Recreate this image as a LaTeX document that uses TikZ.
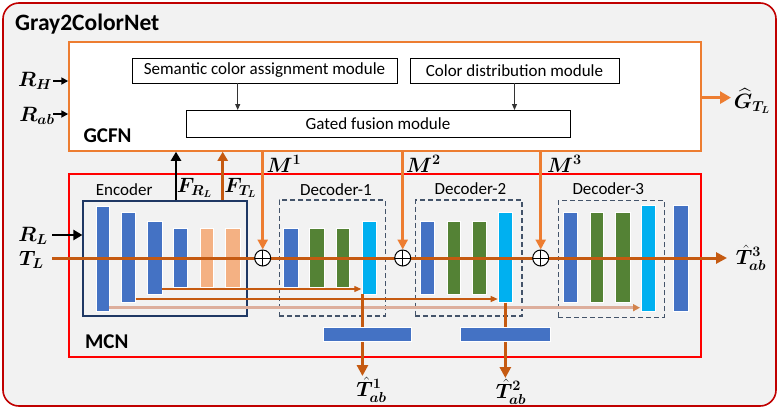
\documentclass[tikz,border=0pt]{standalone}
\usepackage{fontspec}
\setmainfont{Carlito}
\usepackage{amsmath,bm}
\usetikzlibrary{arrows.meta,calc}
\definecolor{bgray}{HTML}{F2F2F2}
\definecolor{cdred}{HTML}{C00000}
\definecolor{cred}{HTML}{FF0000}
\definecolor{corange}{HTML}{ED7D31}
\definecolor{cmain}{HTML}{C55A11}
\definecolor{cblue}{HTML}{4472C4}
\definecolor{cgreen}{HTML}{548235}
\definecolor{ccyan}{HTML}{00B0F0}
\definecolor{cpeach}{HTML}{F4B183}
\definecolor{cnavy}{HTML}{1F3864}
\definecolor{cdash}{HTML}{44546A}
\definecolor{cskip}{HTML}{DDAE9C}
\tikzset{
  barsty/.style={draw=white, line width=0.5pt, inner sep=0pt, outer sep=0pt},
  bblue/.style={fill=cblue}, bgreen/.style={fill=cgreen},
  bcyan/.style={fill=ccyan}, bpeach/.style={fill=cpeach},
  modbox/.style={draw=black, line width=1pt, fill=white, inner sep=0pt, outer sep=0pt, font=\fontsize{17}{20}\selectfont},
  plainlbl/.style={inner sep=0pt, font=\fontsize{17}{20}\selectfont},
  boldlbl/.style={inner sep=0pt, font=\fontsize{21}{24}\selectfont\bfseries},
  mlbl/.style={inner sep=0pt, font=\fontsize{20}{22}\selectfont},
  tlbl/.style={inner sep=0pt, font=\fontsize{21}{24}\selectfont},
  modarrow/.style={draw=black!80, line width=0.9pt, -{Triangle[length=6pt,width=5pt]}},
  inarrow/.style={draw=black, line width=1.8pt, -{Triangle[length=7pt,width=7pt]}},
  bigblack/.style={draw=black, line width=2.5pt, -{Triangle[length=9pt,width=10pt]}},
  mainarrow/.style={draw=cmain, line width=3pt, -{Triangle[length=11pt,width=11pt]}},
  marrow/.style={draw=corange, line width=2.5pt, -{Triangle[length=10pt,width=10pt]}},
  garrow/.style={draw=corange, line width=3.5pt, -{Triangle[length=11pt,width=12pt]}},
  ftarrow/.style={draw=cmain, line width=2.5pt, -{Triangle[length=9pt,width=10pt]}},
  skiparrow/.style={draw=cmain, line width=1.2pt, -{Triangle[length=7pt,width=6pt]}},
  skiplight/.style={draw=cskip, line width=2.5pt, -{Triangle[length=7pt,width=7pt,color=cmain!75]}},
  sumnode/.style={circle, draw=black, fill=white, line width=1pt, minimum size=16pt, inner sep=0pt,
    path picture={\draw[black, line width=0.9pt] (path picture bounding box.north) -- (path picture bounding box.south)
      (path picture bounding box.west) -- (path picture bounding box.east);}},
  encbox/.style={draw=cnavy, line width=1.2pt, inner sep=0pt},
  decbox/.style={draw=cdash, line width=1.2pt, dash pattern=on 5pt off 3pt, inner sep=0pt},
}
\newcommand{\pbar}[6]{\node[barsty,#2,minimum width={#5-#3},minimum height={#6-#4}] (#1) at ({(#3+#5)/2},{(#4+#6)/2}) {};}
\begin{document}
\begin{tikzpicture}[x=1pt,y=-1pt]
\useasboundingbox (0,0) rectangle (781,410);
% outer frame
\node[draw=cdred, line width=1.6pt, fill=bgray, rounded corners=16pt, minimum width=773, minimum height=403, inner sep=0pt] (outer) at (389.5,204.5) {};
\node[anchor=base west, inner sep=0pt, font=\fontsize{23.5}{26}\selectfont\bfseries] (title) at (15,30) {Gray2ColorNet};
% GCFN
\node[draw=corange, line width=1.5pt, fill=white, minimum width=632, minimum height=109, inner sep=0pt] (gcfn) at (385,96.5) {};
\node[modbox, minimum width=265, minimum height=25] (sem) at (264.5,70.5) {Semantic color assignment module};
\node[modbox, minimum width=209, minimum height=25] (cd) at (514.5,70.5) {Color distribution module};
\node[modbox, minimum width=384, minimum height=27] (gfm) at (378,123.5) {Gated fusion module};
\draw[modarrow] ([xshift=-26.8pt]sem.south) -- ([xshift=-26.8pt]sem.south |- gfm.north);
\draw[modarrow] (cd.south) -- (cd.south |- gfm.north);
\node[boldlbl] (gcfnlbl) at (107.5,136) {GCFN};
% inputs to GCFN
\node[mlbl] (rh) at (35,81) {$\bm{R_H}$};
\node[mlbl] (rab) at (37,116) {$\bm{R_{ab}}$};
\coordinate (rha) at (53,81);
\coordinate (raba) at (53,114);
\draw[inarrow] (rha) -- (rha -| gcfn.west);
\draw[inarrow] (raba) -- (raba -| gcfn.west);
% GCFN output
\node[mlbl] (ghat) at (752,101) {$\bm{\widehat{G}_{T_L}}$};
\coordinate (ga) at (740,97.6);
\draw[garrow] (ga -| gcfn.east) -- ([xshift=-9pt]ga);
% MCN
\node[draw=cred, line width=1.3pt, minimum width=632, minimum height=183, inner sep=0pt] (mcn) at (385,265.5) {};
\node[boldlbl] (mcnlbl) at (106.7,342) {MCN};
\node[encbox, minimum width=164, minimum height=115] (enc) at (165,258.5) {};
\node[decbox, minimum width=106, minimum height=116] (d1) at (332.3,258) {};
\node[decbox, minimum width=106.7, minimum height=116] (d2) at (468.7,258) {};
\node[decbox, minimum width=106, minimum height=116.6] (d3) at (611.3,259) {};
\node[plainlbl] (enclbl) at (124.2,190) {Encoder};
\node[plainlbl] (d1lbl) at (336,190) {Decoder-1};
\node[plainlbl] (d2lbl) at (470.5,188.5) {Decoder-2};
\node[plainlbl] (d3lbl) at (608.3,188.5) {Decoder-3};
% skip connections
\pbar{e1}{bblue}{96}{206}{109}{311}
\pbar{e2}{bblue}{121}{212}{135.7}{302.7}
\pbar{e3}{bblue}{147}{221}{162}{294}
\pbar{d1d}{bcyan}{362.3}{221}{376}{294.3}
\pbar{d2d}{bcyan}{498.7}{212.7}{512}{302.7}
\pbar{d3d}{bcyan}{641}{205.7}{655}{311}
\draw[skiparrow] (e3.east |- 0,289) -- ([xshift=-1pt]d1d.west |- 0,289);
\draw[skiparrow] (e2.east |- 0,299) -- ([xshift=-1pt]d2d.west |- 0,299);
\draw[skiplight] (e1.east |- 0,307.7) -- ([xshift=-1pt]d3d.west |- 0,307.7);
% bars
\pbar{e4}{bblue}{173}{228}{187}{287}
\pbar{e5}{bpeach}{200}{228}{213}{287}
\pbar{e6}{bpeach}{225}{228}{240}{287}
\pbar{d1a}{bblue}{283.3}{228}{298.3}{287}
\pbar{d1b}{bgreen}{309.3}{228}{324.3}{287}
\pbar{d1c}{bgreen}{336}{228}{349.3}{287}
\pbar{d2a}{bblue}{420.7}{221}{434.3}{294.3}
\pbar{d2b}{bgreen}{447}{221}{460.7}{294.3}
\pbar{d2c}{bgreen}{472}{221}{486.7}{294.3}
\pbar{d3a}{bblue}{563.7}{212.3}{577.3}{302.7}
\pbar{d3b}{bgreen}{590}{212.3}{603.3}{302.7}
\pbar{d3c}{bgreen}{615}{212.3}{630}{302.7}
\pbar{lastb}{bblue}{673.3}{205.7}{688.3}{311}
% inputs to MCN
\node[mlbl] (rl) at (33,236) {$\bm{R_L}$};
\node[mlbl] (tl) at (31.5,260) {$\bm{T_L}$};
\coordinate (rla) at (52,235);
\draw[bigblack] (rla) -- (rla -| enc.west);
% main line
\coordinate (mstart) at (52,258);
\node[tlbl] (t3) at (751,257.5) {$\bm{\hat{T}^{3}_{ab}}$};
\draw[mainarrow] (mstart) -- (727,258) coordinate (mend);
% sum nodes
\node[sumnode] (s1) at (262.7,258) {};
\node[sumnode] (s2) at (402.7,258) {};
\node[sumnode] (s3) at (540.7,258) {};
\draw[marrow] (s1 |- gcfn.south) -- (s1.north);
\draw[marrow] (s2 |- gcfn.south) -- (s2.north);
\draw[marrow] (s3 |- gcfn.south) -- (s3.north);
\node[mlbl] (m1) at (284,164) {$\bm{M^1}$};
\node[mlbl] (m2) at (423.5,164) {$\bm{M^2}$};
\node[mlbl] (m3) at (564.5,164) {$\bm{M^3}$};
% features to GCFN
\coordinate (frl) at (176,0);
\coordinate (ftl) at (222.7,0);
\draw[bigblack] (frl |- enc.north) -- (frl |- gcfn.south);
\draw[ftarrow] (ftl |- enc.north) -- (ftl |- gcfn.south);
\node[mlbl] (frllbl) at (194.5,188) {$\bm{F_{R_L}}$};
\node[mlbl] (ftllbl) at (240.5,188) {$\bm{F_{T_L}}$};
% side outputs
\node[tlbl] (t1) at (371.5,389.5) {$\bm{\hat{T}^{1}_{ab}}$};
\node[tlbl] (t2) at (511,391.5) {$\bm{\hat{T}^{2}_{ab}}$};
\draw[mainarrow] ([xshift=-6.7pt]d1d.south) coordinate (o1) -- (o1 |- 0,376);
\draw[mainarrow] (d2d.south) -- (d2d.south |- 0,378);
\pbar{bb1}{bblue}{323.3}{327.7}{411.7}{341.7}
\pbar{bb2}{bblue}{460.7}{327.7}{550.7}{341.7}
\end{tikzpicture}
\end{document}
